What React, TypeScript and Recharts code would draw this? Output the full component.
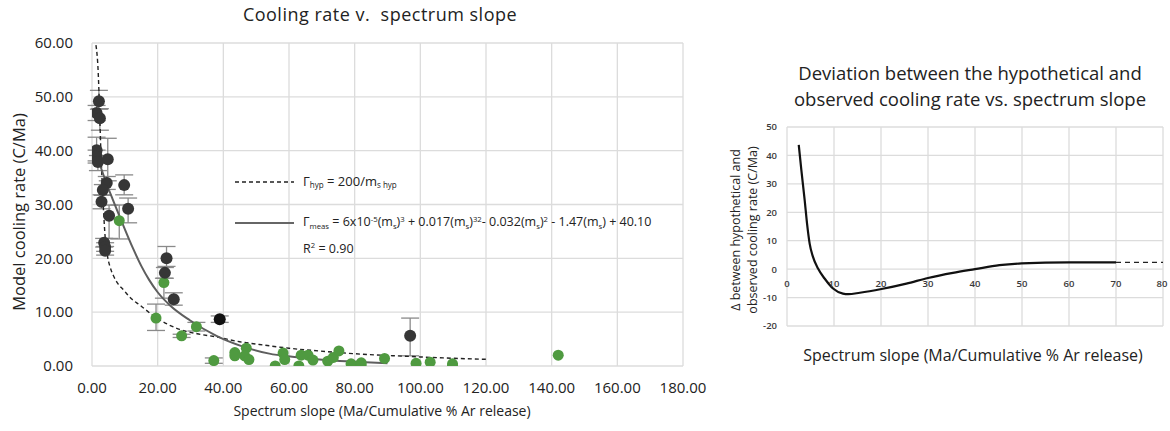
import React from "react";
import {
  ComposedChart,
  Scatter,
  Line,
  XAxis,
  YAxis,
  CartesianGrid,
  ErrorBar,
} from "recharts";

// ---------- Left chart data ----------
const leftXTicks = [0, 20, 40, 60, 80, 100, 120, 140, 160, 180];
const leftYTicks = [0, 10, 20, 30, 40, 50, 60];

// dark grey samples with error bars [low, high]
const darkPoints = [
  { x: 2.1, y: 49.2, err: [1.5, 2.0] },
  { x: 1.4, y: 47.0, err: [1.4, 1.4] },
  { x: 2.4, y: 46.0, err: [2.2, 1.8] },
  { x: 1.4, y: 40.1, err: [2.0, 2.4] },
  { x: 1.4, y: 38.9, err: [1.2, 1.2] },
  { x: 1.8, y: 37.9, err: [1.6, 1.2] },
  { x: 4.8, y: 38.4, err: [4.0, 3.9] },
  { x: 4.5, y: 34.0, err: [1.2, 1.2] },
  { x: 3.3, y: 32.7, err: [1.0, 1.0] },
  { x: 9.8, y: 33.6, err: [1.8, 1.9] },
  { x: 2.9, y: 30.5, err: [1.3, 1.3] },
  { x: 5.2, y: 27.9, err: [4.2, 2.0] },
  { x: 11.0, y: 29.2, err: [2.6, 2.0] },
  { x: 3.7, y: 22.9, err: [0.8, 0.8] },
  { x: 4.0, y: 22.1, err: [0.8, 0.8] },
  { x: 4.0, y: 21.4, err: [0.8, 0.8] },
  { x: 22.7, y: 20.0, err: [1.5, 2.2] },
  { x: 22.2, y: 17.3, err: [1.0, 1.0] },
  { x: 24.9, y: 12.4, err: [1.1, 1.2] },
  { x: 96.9, y: 5.6, err: [3.7, 3.3] },
];

const blackPoints = [{ x: 38.9, y: 8.7, err: [0.6, 0.6] }];

const greenErrPoints = [
  { x: 8.3, y: 27.0, err: [3.4, 2.9] },
  { x: 21.9, y: 15.5, err: [2.9, 0.8] },
  { x: 19.5, y: 8.9, err: [2.3, 2.6] },
  { x: 27.3, y: 5.6, err: [0.3, 0.3] },
  { x: 31.8, y: 7.3, err: [0.8, 0.8] },
  { x: 37.1, y: 1.0, err: [0.5, 0.5] },
];

const greenPoints = [
  { x: 43.5, y: 2.5 },
  { x: 43.5, y: 1.9 },
  { x: 47.0, y: 3.3 },
  { x: 46.5, y: 1.9 },
  { x: 47.8, y: 1.2 },
  { x: 55.8, y: 0.0 },
  { x: 58.2, y: 2.4 },
  { x: 58.7, y: 1.2 },
  { x: 63.0, y: 0.0 },
  { x: 63.7, y: 2.0 },
  { x: 65.8, y: 2.0 },
  { x: 67.3, y: 1.1 },
  { x: 71.8, y: 0.9 },
  { x: 73.5, y: 1.6 },
  { x: 75.2, y: 2.8 },
  { x: 78.9, y: 0.4 },
  { x: 82.0, y: 0.6 },
  { x: 82.0, y: 0.0 },
  { x: 89.1, y: 1.4 },
  { x: 98.7, y: 0.5 },
  { x: 103.0, y: 0.7 },
  { x: 109.8, y: 0.4 },
  { x: 109.8, y: 0.0 },
  { x: 142.0, y: 2.0 },
];

// hypothetical curve (dashed)
const hypCurve = [
  { x: 1.2, y: 59.6 },
  { x: 1.9, y: 54.4 },
  { x: 2.1, y: 51.3 },
  { x: 2.7, y: 40.0 },
  { x: 3.4, y: 30.2 },
  { x: 4.0, y: 24.0 },
  { x: 4.7, y: 20.5 },
  { x: 5.5, y: 18.4 },
  { x: 6.5, y: 16.8 },
  { x: 8.0, y: 15.2 },
  { x: 9.5, y: 14.2 },
  { x: 12.0, y: 12.5 },
  { x: 14.6, y: 11.3 },
  { x: 19.5, y: 9.0 },
  { x: 26.7, y: 6.8 },
  { x: 32.0, y: 6.0 },
  { x: 37.9, y: 5.4 },
  { x: 45.0, y: 4.5 },
  { x: 51.0, y: 4.0 },
  { x: 60.0, y: 3.3 },
  { x: 71.0, y: 2.7 },
  { x: 82.0, y: 2.2 },
  { x: 94.0, y: 1.85 },
  { x: 107.0, y: 1.5 },
  { x: 120.0, y: 1.24 },
];

const measCurve = [
  { x: 1.0, y: 40.0 },
  { x: 4.0, y: 34.6 },
  { x: 6.4, y: 30.8 },
  { x: 9.0, y: 26.9 },
  { x: 12.6, y: 21.7 },
  { x: 15.0, y: 18.6 },
  { x: 17.4, y: 16.0 },
  { x: 20.0, y: 13.7 },
  { x: 23.7, y: 11.3 },
  { x: 29.8, y: 8.5 },
  { x: 37.9, y: 5.6 },
  { x: 46.0, y: 3.6 },
  { x: 54.0, y: 2.3 },
  { x: 61.0, y: 1.7 },
  { x: 71.0, y: 1.1 },
  { x: 80.0, y: 0.8 },
  { x: 90.0, y: 0.5 },
];

// ---------- Right chart data ----------
const rightXTicks = [0, 10, 20, 30, 40, 50, 60, 70, 80];
const rightYTicks = [-20, -10, 0, 10, 20, 30, 40, 50];

const deviationCurve = [
  { x: 2.5, y: 43.7 },
  { x: 3.05, y: 34.9 },
  { x: 3.76, y: 24.3 },
  { x: 4.26, y: 16.1 },
  { x: 4.82, y: 9.0 },
  { x: 5.53, y: 4.3 },
  { x: 6.6, y: 0.2 },
  { x: 8.0, y: -3.3 },
  { x: 9.8, y: -6.8 },
  { x: 11.9, y: -8.6 },
  { x: 13.0, y: -8.8 },
  { x: 15.5, y: -8.3 },
  { x: 20.1, y: -7.0 },
  { x: 25.4, y: -5.1 },
  { x: 30.0, y: -3.1 },
  { x: 35.3, y: -1.3 },
  { x: 40.0, y: 0.0 },
  { x: 45.2, y: 1.4 },
  { x: 49.9, y: 2.0 },
  { x: 60.0, y: 2.35 },
  { x: 70.0, y: 2.35 },
];

const deviationTail = [
  { x: 70.0, y: 2.35 },
  { x: 80.0, y: 2.35 },
];

const FONT = "'Open Sans', 'Noto Sans', sans-serif";
const DARK = "#363636";
const GREEN = "#4f9a40";
const ERR = "#8a8a8a";

const dot = (r: number, fill: string) => (p: any) =>
  p.cx == null ? <g /> : <circle cx={p.cx} cy={p.cy} r={r} fill={fill} />;

// right chart geometry
const R_W = 470;
const R_H = 431;
const R_TOP = 127;
const R_BOTTOM = 105;
const R_PLOT_H = R_H - R_TOP - R_BOTTOM;
const R_Y_MIN = -20;
const R_Y_MAX = 50;

const RightXTick = (props: any) => {
  const { x, y, payload } = props;
  const shift = (R_PLOT_H * (0 - R_Y_MIN)) / (R_Y_MAX - R_Y_MIN);
  return (
    <text
      x={x}
      y={y - shift + 14}
      textAnchor="middle"
      dominantBaseline="central"
      fontSize={9.5}
      fontWeight={600}
      fill="#3a3a3a"
      fontFamily={FONT}
    >
      {payload.value}
    </text>
  );
};

const sub = (t: string) => (
  <span style={{ fontSize: "0.62em", verticalAlign: "-0.35em" }}>{t}</span>
);
const sup = (t: string) => (
  <span style={{ fontSize: "0.62em", verticalAlign: "0.55em" }}>{t}</span>
);

export default function App() {
  return (
    <div
      style={{
        position: "absolute",
        left: 0,
        top: 0,
        width: 1170,
        height: 431,
        background: "#fff",
        fontFamily: FONT,
        color: "#222",
        overflow: "hidden",
      }}
    >
      {/* Left chart */}
      <div style={{ position: "absolute", left: 0, top: 0 }}>
        <ComposedChart
          width={720}
          height={431}
          margin={{ top: 43, right: 37, bottom: 0, left: 0 }}
        >
          <CartesianGrid stroke="#dcdcdc" strokeWidth={1.3} />
          <XAxis
            type="number"
            dataKey="x"
            domain={[0, 180]}
            ticks={leftXTicks}
            tickFormatter={(v: number) => v.toFixed(2)}
            axisLine={false}
            tickLine={false}
            tickSize={0}
            tickMargin={16}
            height={65}
            tick={{ fontSize: 15, fill: "#222", fontFamily: FONT }}
            allowDataOverflow
          />
          <YAxis
            type="number"
            dataKey="y"
            domain={[0, 60]}
            ticks={leftYTicks}
            tickFormatter={(v: number) => v.toFixed(2)}
            axisLine={false}
            tickLine={false}
            tickSize={0}
            tickMargin={19}
            width={92}
            tick={{ fontSize: 15, fill: "#222", fontFamily: FONT }}
            allowDataOverflow
          />
          <Scatter
            data={greenErrPoints}
            dataKey="y"
            isAnimationActive={false}
            shape={dot(5.5, GREEN)}
          >
            <ErrorBar
              dataKey="err"
              direction="y"
              width={9}
              stroke={ERR}
              strokeWidth={1.3}
              isAnimationActive={false}
            />
          </Scatter>
          <Scatter
            data={greenPoints}
            dataKey="y"
            isAnimationActive={false}
            shape={dot(5.5, GREEN)}
          />
          <Scatter
            data={darkPoints}
            dataKey="y"
            isAnimationActive={false}
            shape={dot(6, DARK)}
          >
            <ErrorBar
              dataKey="err"
              direction="y"
              width={9}
              stroke={ERR}
              strokeWidth={1.3}
              isAnimationActive={false}
            />
          </Scatter>
          <Scatter
            data={blackPoints}
            dataKey="y"
            isAnimationActive={false}
            shape={dot(6, "#111")}
          >
            <ErrorBar
              dataKey="err"
              direction="y"
              width={9}
              stroke={ERR}
              strokeWidth={1.3}
              isAnimationActive={false}
            />
          </Scatter>
          <Line
            data={hypCurve}
            dataKey="y"
            type="monotone"
            stroke="#222"
            strokeWidth={1.4}
            strokeDasharray="4 3"
            dot={false}
            activeDot={false}
            isAnimationActive={false}
          />
          <Line
            data={measCurve}
            dataKey="y"
            type="monotone"
            stroke="#5e5e5e"
            strokeWidth={2}
            dot={false}
            activeDot={false}
            isAnimationActive={false}
          />
        </ComposedChart>
      </div>

      {/* Left title and axis labels */}
      <div
        style={{
          position: "absolute",
          left: 380,
          top: 14,
          transform: "translate(-50%, -50%)",
          fontSize: 18,
          letterSpacing: "0.5px",
          whiteSpace: "pre",
        }}
      >
        {"Cooling rate v.  spectrum slope"}
      </div>
      <div
        style={{
          position: "absolute",
          left: 382,
          top: 410,
          transform: "translate(-50%, -50%)",
          fontSize: 14,
          whiteSpace: "pre",
        }}
      >
        Spectrum slope (Ma/Cumulative % Ar release)
      </div>
      <div
        style={{
          position: "absolute",
          left: 18,
          top: 212,
          transform: "translate(-50%, -50%) rotate(-90deg)",
          fontSize: 16.5,
          whiteSpace: "pre",
        }}
      >
        Model cooling rate (C/Ma)
      </div>

      {/* Legend */}
      <svg
        style={{ position: "absolute", left: 0, top: 0 }}
        width={700}
        height={431}
      >
        <line
          x1={235}
          x2={294}
          y1={182}
          y2={182}
          stroke="#222"
          strokeWidth={1.3}
          strokeDasharray="4 3"
        />
        <line
          x1={235}
          x2={294}
          y1={223}
          y2={223}
          stroke="#666"
          strokeWidth={2}
        />
      </svg>
      <div
        style={{
          position: "absolute",
          left: 303,
          top: 182,
          transform: "translateY(-55%)",
          fontSize: 13,
          whiteSpace: "pre",
        }}
      >
        Γ{sub("hyp")} = 200/m{sub("s hyp")}
      </div>
      <div
        style={{
          position: "absolute",
          left: 303,
          top: 223,
          transform: "translateY(-55%)",
          fontSize: 12.5,
          whiteSpace: "pre",
        }}
      >
        Γ{sub("meas")} = 6x10{sup("-5")}(m{sub("s")}){sup("3")} + 0.017(m
        {sub("s")}){sup("32")}- 0.032(m{sub("s")}){sup("2")} - 1.47(m
        {sub("s")}) + 40.10
      </div>
      <div
        style={{
          position: "absolute",
          left: 303,
          top: 249,
          transform: "translateY(-55%)",
          fontSize: 12.5,
          whiteSpace: "pre",
        }}
      >
        R{sup("2")} = 0.90
      </div>

      {/* Right chart */}
      <div style={{ position: "absolute", left: 700, top: 0 }}>
        <ComposedChart
          width={R_W}
          height={R_H}
          margin={{ top: R_TOP, right: 7, bottom: 0, left: 0 }}
        >
          <CartesianGrid stroke="#dcdcdc" strokeWidth={1.3} />
          <XAxis
            type="number"
            dataKey="x"
            domain={[0, 80]}
            ticks={rightXTicks}
            axisLine={false}
            tickLine={false}
            tickSize={0}
            tickMargin={0}
            height={R_BOTTOM}
            tick={<RightXTick />}
            allowDataOverflow
          />
          <YAxis
            type="number"
            dataKey="y"
            domain={[R_Y_MIN, R_Y_MAX]}
            ticks={rightYTicks}
            axisLine={false}
            tickLine={false}
            tickSize={0}
            tickMargin={10}
            width={87}
            tick={{
              fontSize: 9.5,
              fontWeight: 600,
              fill: "#3a3a3a",
              fontFamily: FONT,
            }}
            allowDataOverflow
          />
          <Line
            data={deviationCurve}
            dataKey="y"
            type="monotone"
            stroke="#111"
            strokeWidth={2.2}
            dot={false}
            activeDot={false}
            isAnimationActive={false}
          />
          <Line
            data={deviationTail}
            dataKey="y"
            type="linear"
            stroke="#222"
            strokeWidth={1.3}
            strokeDasharray="5 4"
            dot={false}
            activeDot={false}
            isAnimationActive={false}
          />
        </ComposedChart>
      </div>

      {/* Right title and labels */}
      <div
        style={{
          position: "absolute",
          left: 970,
          top: 86,
          transform: "translate(-50%, -50%)",
          fontSize: 18.5,
          lineHeight: "26px",
          textAlign: "center",
          whiteSpace: "pre",
        }}
      >
        {"Deviation between the hypothetical and\nobserved cooling rate vs. spectrum slope"}
      </div>
      <div
        style={{
          position: "absolute",
          left: 744,
          top: 230,
          transform: "translate(-50%, -50%) rotate(-90deg)",
          fontSize: 12.5,
          lineHeight: "17px",
          textAlign: "center",
          whiteSpace: "pre",
        }}
      >
        {"Δ between hypothetical and\nobserved cooling rate (C/Ma)"}
      </div>
      <div
        style={{
          position: "absolute",
          left: 973,
          top: 355,
          transform: "translate(-50%, -50%)",
          fontSize: 16,
          whiteSpace: "pre",
        }}
      >
        Spectrum slope (Ma/Cumulative % Ar release)
      </div>
    </div>
  );
}
